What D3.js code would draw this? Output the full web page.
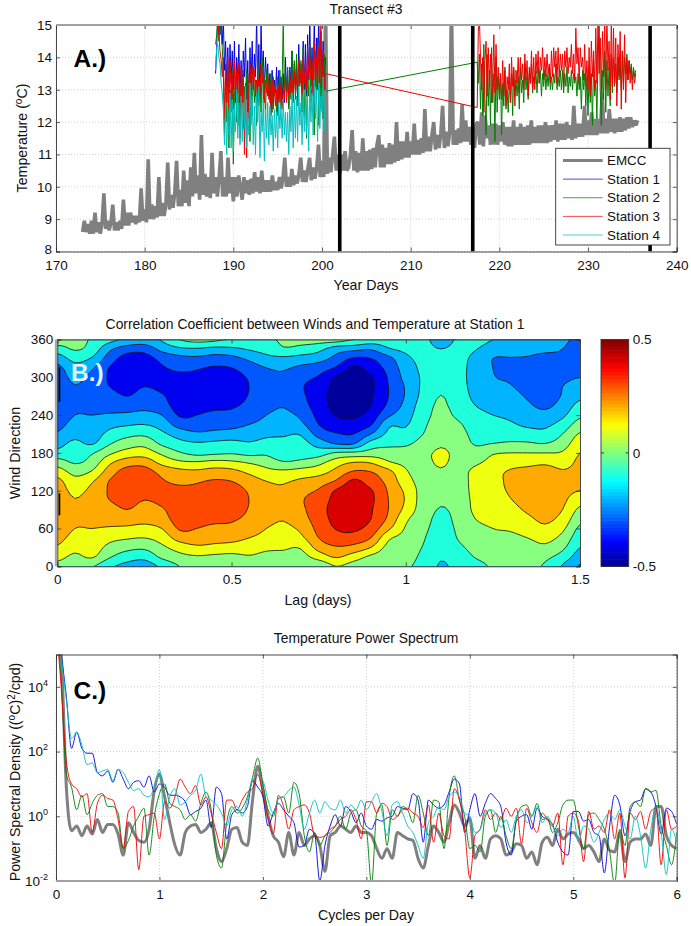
<!DOCTYPE html>
<html><head><meta charset="utf-8">
<script src="https://cdn.jsdelivr.net/npm/d3@7"></script>
<style>
html,body{margin:0;padding:0;background:#fff}
svg{display:block}
text{font-family:"Liberation Sans",Arial,sans-serif;fill:#111}
</style></head><body><svg id="c" width="691" height="926"></svg>
<script>
// ---------- Panel A data ----------
const titleA="Transect #3", xTicksA=[170,180,190,200,210,220,230,240], yTicksA=[8,9,10,11,12,13,14,15];
const markerDays=[202,217,237];
const legendNames=["EMCC","Station 1","Station 2","Station 3","Station 4"];
const emccStart=173, emccStep=0.2;
const emcc=[
8.6,8.95,8.6,8.85,8.55, 8.95,8.55,9.2,8.6,8.9, 8.55,8.9,9.8,8.7,8.95, 8.65,8.9,9.45,8.65,8.9,
8.65,8.95,8.7,9.6,8.8, 9.2,8.8,9.2,8.9,9.1, 8.85,9.1,8.9,9.95,8.95, 9.3,8.9,10.85,9.0,9.45,
9.0,9.4,9.05,10.3,9.1, 9.5,9.1,9.5,10.75,9.3, 9.75,9.35,9.85,10.8,9.4, 9.9,9.4,10.5,9.5,10.2,
9.4,10.6,9.7,11.05,9.8, 10.35,9.6,11.6,9.75,10.4, 9.7,10.3,9.65,11.05,9.8, 10.3,9.7,10.3,11.1,9.7,
10.3,9.7,10.9,9.8,10.3, 9.55,10.3,9.7,10.35,10.0, 9.6,10.3,9.8,10.2,9.75, 10.25,9.8,10.45,9.85,10.3,
9.8,10.5,9.85,10.2,9.85, 10.2,9.85,10.35,9.9,10.15, 9.9,10.3,9.95,10.25,10.9, 10.0,10.3,10.0,10.55,10.05,
10.35,10.1,10.4,10.9,10.15, 10.5,10.15,10.55,10.9,10.2, 10.6,10.25,10.6,11.3,10.3, 10.8,10.3,15.6,10.4,10.9,
10.45,11.0,11.55,10.5,11.0, 10.4,11.0,10.5,11.1,10.5, 10.6,11.0,11.75,10.5,11.1, 10.45,11.05,10.5,11.5,10.5,
11.1,10.5,11.15,10.55,11.2, 10.6,11.3,11.6,10.6,11.3, 10.6,11.2,10.7,11.35,10.7, 11.3,10.75,12.0,10.8,11.4,
10.85,11.4,10.9,11.7,10.9, 11.4,11.0,11.95,11.0,11.45, 11.0,11.5,11.05,12.4,11.1, 11.55,11.1,11.6,12.0,11.15,
11.6,11.2,11.65,12.5,11.2, 11.7,11.25,11.7,15.6,11.3, 11.75,11.3,11.8,11.35,12.55, 11.4,12.05,11.4,11.85,11.3,
11.9,11.2,11.95,12.0,11.3, 12.3,11.25,12.2,11.5,11.9, 11.3,11.95,11.3,11.95,11.3, 11.9,11.4,12.0,11.3,11.85,
11.25,11.85,11.25,12.05,11.3, 11.85,11.3,11.95,11.3,11.85, 11.3,11.9,11.3,12.05,11.35, 11.85,11.35,11.9,11.35,11.9,
11.35,12.0,11.35,11.9,11.4, 11.9,11.45,12.05,11.4,11.95, 11.45,11.95,11.45,12.0,11.5, 11.9,11.45,12.5,11.5,11.95,
11.55,11.95,11.55,12.5,11.6, 12.05,11.6,12.3,11.6,12.1, 11.6,12.1,11.65,12.9,11.65, 12.1,11.65,12.4,11.7,12.1,
11.65,12.1,11.7,12.15,11.7, 12.1,11.75,12.15,11.8,12.15, 11.85,12.05,11.9,12.05];
const sampleStep=0.125, firstStart=188, secondStart=217.5;
const station1=[
13.5,14.3,15.4,15.6,14.7,15.3,14.4,15.2, 13.6,14.5,13.1,14.3,12.9,14.4,13.2,14.2,
13.0,14.5,12.6,14.0,13.3,14.4,12.8,13.9, 12.9,14.2,13.4,14.6,12.7,13.9,12.3,14.3,
13.1,14.5,13.0,14.1,13.4,15.2,13.0,14.4, 12.7,15.0,13.5,14.2,12.9,14.0,13.3,13.8,
12.8,13.5,12.4,13.6,12.6,13.3,12.9,13.7, 12.3,13.6,12.8,13.4,12.7,13.5,12.6,14.0,
12.9,13.6,12.5,13.7,13.1,14.2,12.9,13.8, 13.1,13.9,12.7,14.4,13.2,13.8,13.0,14.5,
13.0,14.4,12.8,14.7,13.3,15.2,13.1,14.3, 12.9,15.3,13.2,14.6,13.0,15.4,13.4,14.8,
13.2,14.5,13.0,14.0];
const station2a=[
14.4,14.7,15.2,14.5,15.0,14.8,14.3,13.5, 11.6,13.4,12.0,13.8,11.2,13.0,12.3,13.6,
10.7,12.8,13.4,12.0,13.5,11.9,13.0,12.4, 13.4,11.8,13.1,12.4,13.6,12.0,13.3,11.4,
13.5,12.2,13.7,12.6,13.3,11.9,14.0,12.5, 13.2,12.3,14.0,12.6,13.4,12.1,13.6,12.8,
13.3,12.6,13.5,12.3,13.4,12.8,13.2,12.2, 13.4,12.7,13.6,12.4,13.2,15.1,13.0,13.5,
12.9,13.7,12.4,13.3,12.7,14.2,12.6,13.9, 12.7,14.1,12.5,13.8,13.1,13.9,12.3,14.3,
12.2,13.4,11.5,13.6,12.8,14.4,12.6,13.2, 13.9,11.6,14.2,12.7,14.6,11.9,14.5,12.4,
13.6,12.1,14.1,12.95];
const station2b=[13.85,13.2,14.1,12.4,
13.8,12.2,14.4,12.7,11.6,14.1,12.5,13.6, 11.9,14.3,12.6,13.5,11.4,14.0,12.3,13.4,
12.7,13.5,11.6,13.2,12.5,13.7,12.4,13.0, 12.3,13.4,12.6,13.5,12.2,13.6,12.8,13.3,
12.8,13.4,12.4,13.7,12.9,13.3,12.6,13.8, 13.0,13.4,12.7,13.5,13.2,13.8,12.9,13.4,
13.2,13.6,12.9,13.7,13.2,13.6,12.8,13.5, 13.1,13.6,13.0,13.5,13.1,13.7,13.0,13.4,
13.0,13.5,13.2,13.8,13.0,13.4,13.1,13.6, 13.0,13.6,12.9,13.5,13.1,13.7,12.9,13.4,
13.1,13.6,13.0,13.5,13.2,13.4,12.8,13.5, 13.0,13.4,12.4,13.6,13.0,13.5,12.5,13.4,
12.2,13.7,12.6,13.5,11.9,13.9,12.8,13.3, 12.1,14.0,15.2,13.0,11.9,13.6,12.7,14.2,
12.3,13.9,12.8,13.7,12.5,14.1,12.9,14.0, 13.1,13.8,12.9,14.0,13.3,13.9,13.0,14.2,
13.2,14.0,13.5,14.1,13.3,13.9,13.5,13.8, 13.3,13.7,13.4,13.6];
const station3a=[
15.3,15.0,15.2,14.7,14.2,13.9,13.4,14.0, 12.1,13.8,12.6,14.0,12.4,13.9,12.8,13.5,
12.4,13.9,12.7,13.6,12.9,13.8,11.5,13.7, 12.6,13.6,11.0,13.2,10.9,13.5,12.1,13.8,
13.0,13.7,13.1,13.6,12.8,13.3,12.6,13.4, 12.9,13.8,13.2,13.6,12.6,13.3,12.9,13.5,
12.7,13.2,12.2,13.3,12.4,13.1,12.5,13.0, 12.2,13.1,12.6,13.2,12.4,13.0,12.7,13.4,
12.6,13.2,12.8,13.5,12.9,13.3,12.7,13.6, 13.0,13.4,12.8,13.9,13.2,13.6,12.9,14.0,
13.2,13.8,13.0,14.3,13.4,14.0,13.3,13.9, 12.8,14.5,13.1,14.0,13.0,14.3,13.2,15.1,
13.1,14.2,13.0,13.5];
const station3b=[12.45,14.8,15.2,14.0,
13.0,14.0,12.3,13.9,14.5,12.8,14.3,13.1, 14.1,12.6,13.2,14.7,12.9,14.4,13.0,13.7,
12.9,13.5,12.7,13.9,12.8,13.6,12.5,13.4, 13.0,13.8,12.6,14.0,13.1,13.7,12.5,13.6,
13.2,14.0,12.9,14.0,13.3,13.8,13.0,14.1, 13.3,13.9,12.8,13.7,13.2,14.2,13.0,14.0,
13.0,14.1,13.5,14.2,13.2,14.0,13.6,14.3, 13.3,14.0,13.4,14.1,13.5,13.8,13.2,14.2,
13.4,14.3,13.7,14.2,13.2,14.3,13.4,14.1, 13.6,14.1,13.1,14.2,13.7,14.3,13.5,14.0,
13.7,14.4,13.5,14.1,13.3,14.9,13.8,14.3, 13.2,14.3,13.7,14.0,13.3,14.4,13.1,13.9,
13.0,14.3,12.8,14.5,13.4,14.2,13.0,14.9, 13.2,15.1,13.5,14.6,12.9,14.8,13.4,15.2,
13.0,15.3,13.6,14.5,12.7,15.2,13.1,14.9, 13.2,14.6,12.5,14.4,13.4,14.8,12.4,14.2,
13.0,14.7,12.6,14.0,13.3,13.9,13.2,13.7, 13.0,13.6,13.2,13.5];
const station4=[
13.6,14.3,14.4,14.0,13.8,13.2,12.9,12.4, 11.3,12.6,11.0,12.4,11.6,12.9,11.2,12.7,
11.1,12.5,11.7,13.0,11.5,12.6,11.3,12.8, 11.4,12.6,11.8,13.1,11.2,12.3,11.6,13.2,
11.9,12.8,11.3,12.5,11.0,12.9,12.0,13.1, 10.9,12.3,11.7,12.7,10.8,12.4,11.5,12.6,
11.3,12.5,11.6,12.2,11.1,12.4,11.5,12.3, 11.2,12.6,11.8,12.5,11.5,12.7,11.6,12.3,
11.4,12.3,11.0,12.5,11.7,12.9,11.2,12.7, 11.5,12.8,11.4,13.1,11.9,12.6,11.3,12.8,
11.7,13.0,11.6,12.7,11.1,13.1,12.0,12.9, 11.6,13.3,12.1,13.0,11.4,13.2,11.8,12.8,
12.3,13.4,11.7,13.0];

// ---------- Panel B data (one column per lag, direction 0..360 in 15 degree rows) ----------
const titleB="Correlation Coefficient between Winds and Temperature at Station 1";
const lagStep=0.05, directionStep=15;
const xTicksB=[0,0.5,1,1.5], yTicksB=[0,60,120,180,240,300,360];
const contourLevels=[-0.5,-0.4,-0.3,-0.2,-0.1,0,0.1,0.2,0.3,0.4];
const bandColors=["#00009c","#0000f0","#0058ff","#00b4ff","#20ffdc","#88ff80","#eeff10","#ffaa00","#ff4800","#d80000"];
const corrColumns=[
[.07,.13,.19,.23,.26,.28,.29,.29,.26,.23,.15,.05,-.07,-.13,-.19,-.23,-.26,-.28,-.29,-.29,-.26,-.23,-.15,-.05,.07],
[.04,.08,.13,.17,.2,.22,.22,.205,.17,.13,.07,-.01,-.05,-.08,-.13,-.17,-.2,-.22,-.22,-.205,-.17,-.13,-.07,.01,.03],
[.01,.11,.15,.18,.2,.23,.26,.26,.23,.19,.11,.04,-.01,-.11,-.15,-.18,-.2,-.23,-.26,-.26,-.23,-.19,-.11,-.04,-.01],
[-.08,.01,.07,.13,.19,.235,.27,.3,.31,.305,.25,.18,.08,-.01,-.07,-.13,-.19,-.235,-.27,-.3,-.31,-.305,-.25,-.18,-.07],
[-.13,-.05,.03,.11,.18,.25,.3,.33,.35,.36,.34,.25,.14,.05,-.03,-.11,-.18,-.25,-.3,-.33,-.35,-.36,-.34,-.25,-.12],
[-.15,-.07,.02,.1,.17,.23,.27,.3,.34,.36,.34,.26,.15,.07,-.02,-.1,-.17,-.23,-.27,-.3,-.34,-.36,-.34,-.26,-.14],
[-.08,.02,.08,.14,.2,.26,.29,.32,.33,.31,.27,.17,.08,-.02,-.08,-.14,-.2,-.26,-.29,-.32,-.33,-.31,-.27,-.17,-.09],
[0,.07,.14,.24,.31,.34,.35,.35,.325,.28,.23,.12,.01,-.07,-.14,-.24,-.31,-.34,-.35,-.35,-.325,-.28,-.23,-.12,0],
[.04,.09,.18,.26,.3,.33,.345,.34,.32,.29,.22,.11,-.03,-.09,-.18,-.26,-.3,-.33,-.345,-.34,-.32,-.29,-.22,-.11,.03],
[.03,.08,.17,.24,.28,.32,.35,.36,.35,.31,.24,.13,-.02,-.08,-.17,-.24,-.28,-.32,-.35,-.36,-.35,-.31,-.24,-.13,.02],
[.01,.07,.16,.23,.28,.31,.34,.35,.34,.3,.23,.12,-.01,-.07,-.16,-.23,-.28,-.31,-.34,-.35,-.34,-.3,-.23,-.12,-.01],
[.03,.09,.15,.2,.25,.28,.295,.3,.29,.25,.18,.09,-.03,-.09,-.15,-.2,-.25,-.28,-.295,-.3,-.29,-.25,-.18,-.09,-.02],
[.02,.07,.12,.17,.2,.23,.25,.25,.23,.2,.13,.06,-.02,-.07,-.12,-.17,-.2,-.23,-.25,-.25,-.23,-.2,-.13,-.06,-.01],
[.06,.08,.11,.15,.18,.205,.22,.22,.21,.19,.12,.01,-.08,-.08,-.11,-.15,-.18,-.205,-.22,-.22,-.21,-.19,-.12,-.01,.01],
[.06,.07,.11,.18,.22,.26,.28,.29,.27,.22,.14,.03,-.06,-.07,-.11,-.18,-.22,-.26,-.28,-.29,-.27,-.22,-.14,-.03,.03],
[.03,.14,.24,.3,.33,.35,.36,.35,.31,.25,.16,.07,-.05,-.14,-.24,-.3,-.33,-.35,-.36,-.35,-.31,-.25,-.16,-.07,.04],
[.1,.21,.29,.36,.405,.43,.44,.43,.41,.31,.23,.15,.01,-.21,-.29,-.36,-.405,-.43,-.44,-.43,-.41,-.31,-.23,-.15,.04],
[.06,.15,.27,.36,.42,.47,.49,.49,.46,.42,.31,.2,.02,-.21,-.3,-.36,-.42,-.47,-.49,-.49,-.46,-.42,-.31,-.17,0],
[.03,.08,.2,.3,.36,.4,.41,.42,.41,.35,.3,.19,.04,-.06,-.2,-.31,-.36,-.4,-.41,-.42,-.41,-.35,-.3,-.19,-.04],
[.01,.04,.07,.12,.22,.28,.3,.3,.29,.27,.23,.11,.05,-.03,-.08,-.12,-.22,-.28,-.3,-.3,-.29,-.27,-.23,-.11,-.05],
[.01,.03,.05,.07,.09,.12,.17,.19,.18,.14,.11,.08,.05,-.02,-.07,-.11,-.14,-.17,-.19,-.19,-.17,-.15,-.12,-.08,-.04],
[-.03,-.02,-.005,.01,.025,.04,.05,.055,.06,.065,.07,.08,.08,.04,0,-.02,-.04,-.05,-.07,-.08,-.085,-.08,-.08,-.08,-.08],
[-.11,-.09,-.07,-.06,-.04,-.025,-.005,.01,.03,.06,.09,.11,.11,.09,.07,.05,.03,.015,.002,-.02,-.035,-.05,-.07,-.1,-.125],
[-.07,-.05,-.02,.005,.015,.025,.03,.04,.05,.06,.075,.08,.08,.06,.04,.015,-.02,-.04,-.055,-.065,-.07,-.075,-.08,-.085,-.09],
[-.03,.005,.03,.05,.07,.1,.12,.125,.13,.13,.12,.085,.04,-.01,-.03,-.05,-.07,-.1,-.12,-.13,-.135,-.13,-.12,-.095,-.06],
[.01,.03,.05,.08,.1,.13,.15,.16,.17,.175,.17,.13,.09,0,-.03,-.06,-.1,-.13,-.16,-.18,-.195,-.2,-.2,-.15,-.1],
[.02,.04,.06,.08,.11,.14,.17,.195,.21,.215,.21,.16,.1,.01,-.03,-.085,-.12,-.15,-.175,-.195,-.21,-.22,-.205,-.15,-.11],
[.01,.03,.06,.1,.14,.18,.215,.24,.25,.25,.23,.17,.1,.01,-.05,-.12,-.15,-.185,-.21,-.23,-.245,-.24,-.21,-.16,-.12],
[-.01,.02,.08,.13,.18,.22,.25,.27,.28,.28,.25,.18,.1,0,-.07,-.12,-.17,-.22,-.26,-.28,-.29,-.27,-.24,-.17,-.12],
[-.11,-.04,.02,.07,.12,.165,.2,.22,.23,.23,.21,.16,.11,.05,0,-.06,-.12,-.16,-.19,-.2,-.225,-.23,-.22,-.2,-.18],
[-.21,-.15,-.1,-.06,-.02,.03,.08,.14,.2,.22,.225,.22,.2,.16,.11,.045,-.02,-.07,-.12,-.16,-.2,-.23,-.25,-.24,-.22]
];
const edgeBlips=[[261,316],[81,116]];
const colorbarTicks=[-0.5,0,0.5];
const jetStops=["#00008f","#0000ff","#00ffff","#ffff00","#ff0000","#800000"];
const jetOffsets=[-0.5,-0.39,-0.125,0.125,0.375,0.5];

// ---------- Panel C data (log10 of power, step 0.05 cpd, one text row per cpd) ----------
const titleC="Temperature Power Spectrum";
const freqStep=0.05, xTicksC=[0,1,2,3,4,5,6], yTicksC=[-2,0,2,4];
const specEmcc=[6,5,.9,-.45,-.3,-.6,-.3,-.55,-.1,-.5,-.25,-.25,-.55,-1.2,-.2,-.5,-.75,-.8,-.4,.8,1.3,
.6,-.2,-.9,-1.2,-.5,-.3,-.25,-.5,-.4,-.2,-1.0,-1.4,-1,-.4,-.35,-.8,-.9,.5,1.55,.8,
0,-.6,-.8,-1.25,-.5,-1.2,-.5,-.9,-.7,-.6,-.9,-1.7,-.6,-.5,-.3,-.4,-.5,-.3,-.5,-.5,
-.6,-1,-1.3,-1,-1.3,-.5,-.6,-.7,-.75,-1.3,-1.6,-.9,-.3,-.5,-.8,-.2,.35,.1,-.3,-.05,
-1.3,-.9,-1.3,-.7,-.6,-.7,-1.2,-1.1,-.85,-.9,-1.3,-1.1,-1.5,-.8,-.65,-.9,-.4,-.7,-.55,-.5,
-.7,-1,-.9,-1.1,-1.4,-.7,-1.05,-1.1,-.5,-1.4,-.8,-.7,-.7,-.55,-.9,.3,.3,-.6,-.9,-1];
const specS1=[6,5.0,3.7,2.1,2.6,2.1,1.95,1.95,1.35,1.25,1.4,1.05,1.45,1.15,.85,1.05,1.1,.9,1.25,.75,1.0,
.9,.65,.65,.6,.45,.05,.15,.25,.5,-.35,.9,.7,-.7,.05,.2,.1,.3,1.1,.9,.6,
-.3,.1,.4,.2,0,-.2,-.95,-.9,-.4,-.55,-2.0,-.9,-.3,.05,-.3,.3,.15,-.2,.1,-.3,
-.4,-.1,-.15,-.05,0,.3,.25,.2,.7,.5,-.8,.5,.35,.25,.35,.75,1.15,1.0,-.5,.2,
.7,0,.4,.7,.55,.3,-.8,-1.2,-.15,0,.05,-.4,.25,0,-.1,-.25,-.8,-1.1,-1.2,.15,
.15,-.15,-.1,-.5,-.6,-1.75,-.35,.65,.35,-.6,.15,.45,.5,.85,.75,.3,-.55,.25,.15,-.25];
const specS2=[6,4.2,1.3,.9,.2,.65,.05,.4,.65,.7,.3,.3,.1,-1.0,-.75,-.3,0,.25,-1.2,0,.7,
1.0,.4,.3,.2,-.1,.05,-.15,.4,.75,.2,-1.2,-1.6,-.2,.3,.1,.25,.6,1.2,1.8,1.0,
.2,0,.55,.6,.1,1.05,.7,-.6,-1.1,-.5,-.9,-.6,-.5,-.3,0,-.4,.1,.2,-.3,-.45,
-2.1,.1,.35,-.9,.2,0,.3,.2,-.2,.65,.1,-.6,.5,.45,-1.0,.6,1.25,.5,0,-1.0,
-.9,-1.1,0,.2,-.5,0,-.6,-1.0,-.1,.3,.35,0,.4,-.1,-.05,-.5,-.2,.35,.5,.5,
-.3,-1,.05,.1,-.1,-.4,-1.05,-2.1,-.4,-.9,.3,.45,.3,.85,.75,.8,-.3,-.9,-1.5,-.5];
const specS3=[6,4.0,1.7,1.0,.85,.6,.7,-.5,.4,.65,.55,.5,-.1,-1.0,.15,.3,-1.65,0,.05,.1,-.7,
.45,.25,.6,1.15,.9,.7,.95,.35,.6,.1,-.5,-1.0,.5,.5,.2,.5,.75,.85,1.3,.7,
-.05,-.55,.65,.3,-.4,.2,.3,.35,.1,-.6,-.65,-.6,-.4,-.3,-.1,0,.2,-.1,-.7,.45,
.45,.1,.4,.3,-.1,0,.2,.25,.1,0,-.35,.35,-.8,.1,-.6,-.7,.85,.5,-.4,-1.9,
-.6,-.4,.2,-.1,.1,-.1,.25,0,.25,-.85,.25,-.2,-.5,.1,-.1,-.3,.1,-1.5,0,.1,
-.15,-1.4,.15,-.4,-.3,-.5,.2,-.7,.1,-1.9,.1,-.1,.15,-.4,.15,.25,-1.5,.2,-.4,-.3];
const specS4=[6,4.9,3.6,2.4,2.6,2.2,1.6,1.65,1.35,1.4,1.45,1.1,1.45,1.35,1.05,.8,.85,.65,.6,.9,1.45,
-.1,.6,.85,.35,.45,.65,.8,1.3,.6,.5,.35,.1,-.3,.2,.3,0,.5,1.1,1.25,1.1,
.5,.1,.55,.6,.8,.9,.35,-.4,.1,.5,.1,.45,.25,.2,.5,.1,.35,.2,.5,.2,
.45,.7,.15,-.6,.35,.45,.1,-.3,-.5,-.9,-1.3,-.2,0,.3,.2,.6,.75,.6,.1,0,
-.5,-.4,.1,.2,.1,-.35,-.1,-.5,0,.2,-.2,0,.3,-.2,0,-.3,-.6,-.4,-.5,0,
-.8,-.3,-.4,-.8,-.5,-.1,.1,-.1,.2,-.3,-.7,0,-.6,-1.6,-.4,.3,-.5,-1.8,-.4,-.8];

const seriesColors={emcc:"#808080",s1:"#0000e0",s2:"#007f00",s3:"#f00000",s4:"#00bfbf"};
const axisInk="#333", gridInk="#c4c4c4";

// ---------- helpers ----------
const svg=d3.select("#c");
const FS=13.5, LABEL=14.2, TITLE=13.9;
function superLabel(sel,parts,attrs,size){
  const t=sel.append("text");
  Object.entries(attrs).forEach(([k,v])=>t.attr(k,v));
  t.style("font-size",size+"px");
  parts.forEach(p=>{
    if(p.sup) t.append("tspan").attr("dy",-5).style("font-size","10px").text(p.sup);
    else t.append("tspan").attr("dy",p.after?5:0).text(p.t);
  });
  return t;
}
function frame(x,y,xt,yt){
  const g=svg.append("g");
  const [x0,x1]=x.range(), [y0,y1]=y.range();
  const gx=g.append("g").attr("stroke",gridInk).attr("stroke-dasharray","1 2").attr("stroke-width",.8);
  gx.selectAll("line.v").data(xt).join("line").attr("x1",x).attr("x2",x).attr("y1",y0).attr("y2",y1);
  gx.selectAll("line.h").data(yt).join("line").attr("x1",x0).attr("x2",x1).attr("y1",y).attr("y2",y);
  return g;
}
function axes(x,y,xt,yt,xf,yf,pad=8){
  const [x0,x1]=x.range(), [y0,y1]=y.range();
  const g=svg.append("g");
  const bx=d3.axisBottom(x).tickValues(xt).tickFormat(xf).tickSize(-4).tickPadding(pad);
  const by=d3.axisLeft(y).tickValues(yt).tickFormat(yf).tickSize(-4).tickPadding(4);
  const gb=g.append("g").attr("transform",`translate(0,${y0})`).call(bx);
  const gl=g.append("g").attr("transform",`translate(${x0},0)`).call(by);
  g.append("g").attr("transform",`translate(0,${y1})`).call(d3.axisTop(x).tickValues(xt).tickFormat("").tickSize(-4));
  g.append("g").attr("transform",`translate(${x1},0)`).call(d3.axisRight(y).tickValues(yt).tickFormat("").tickSize(-4));
  g.selectAll("path.domain").attr("stroke",axisInk).attr("stroke-width",.9);
  g.selectAll(".tick line").attr("stroke",axisInk).attr("stroke-width",.8);
  g.selectAll("text").style("font-size",FS+"px").style("font-family",'"Liberation Sans",Arial,sans-serif').attr("fill","#111");
  return {g,gb,gl};
}
function addClip(id,x,y){
  const [x0,x1]=x.range(), [y0,y1]=y.range();
  svg.append("clipPath").attr("id",id).append("rect").attr("x",x0).attr("y",y1).attr("width",x1-x0).attr("height",y0-y1);
}
function center(txt,cx,cy,size){
  svg.append("text").attr("x",cx).attr("y",cy).attr("text-anchor","middle").style("font-size",size+"px").text(txt);
}
function panelTag(txt,x,y,col){
  svg.append("text").attr("x",x).attr("y",y).style("font-size","24.5px").style("font-weight","bold").style("fill",col).text(txt);
}

// ---------- Panel A ----------
const xA=d3.scaleLinear().domain([170,240]).range([56,676.7]);
const yA=d3.scaleLinear().domain([8,15]).range([251.5,25]);
frame(xA,yA,xTicksA,yTicksA);
addClip("clipA",xA,yA);
const lineA=d3.line().x(d=>xA(d[0])).y(d=>yA(d[1]));
const gA=svg.append("g").attr("clip-path","url(#clipA)").attr("fill","none");
const emccPts=emcc.map((v,i)=>[emccStart+i*emccStep,v]);
const seg=(vals,start)=>vals.map((v,i)=>[start+i*sampleStep,v]);
gA.append("path").attr("d",lineA(emccPts)).attr("stroke",seriesColors.emcc).attr("stroke-width",3.6).attr("stroke-linejoin","bevel");
const stationLines=[
  [seg(station1,firstStart),seriesColors.s1],
  [seg(station2a,firstStart).concat(seg(station2b,secondStart)),seriesColors.s2],
  [seg(station3a,firstStart).concat(seg(station3b,secondStart)),seriesColors.s3],
  [seg(station4,firstStart),seriesColors.s4]];
stationLines.forEach(([p,c])=>gA.append("path").attr("d",lineA(p)).attr("stroke",c).attr("stroke-width",1));
gA.selectAll("line.mark").data(markerDays).join("line").attr("x1",xA).attr("x2",xA).attr("y1",yA(8)).attr("y2",yA(15)).attr("stroke","#000").attr("stroke-width",3.6);
const axA=axes(xA,yA,xTicksA,yTicksA,d3.format("d"),d3.format("d"),9);
axA.gl.selectAll(".tick").filter(d=>d===8).select("text").attr("dy","0.12em");
svg.append("line").attr("x1",56).attr("x2",676.7).attr("y1",25).attr("y2",25).attr("stroke","#a0a0a0").attr("stroke-width",2);
center(titleA,366,14,TITLE);
center("Year Days",366,290,LABEL);
superLabel(svg,[{t:"Temperature ("},{sup:"o"},{t:"C)",after:true}],{transform:"translate(27,138) rotate(-90)","text-anchor":"middle"},LABEL);
panelTag("A.)",73.5,67,"#000");
// legend
const lg=svg.append("g");
lg.append("rect").attr("x",555.7).attr("y",148.3).attr("width",114.3).attr("height",96.7).attr("fill","#fff").attr("stroke",axisInk).attr("stroke-width",.9);
const legY=d3.scalePoint().domain(legendNames).range([160.5,235]);
const legC=[seriesColors.emcc,seriesColors.s1,seriesColors.s2,seriesColors.s3,seriesColors.s4];
legendNames.forEach((n,i)=>{
  lg.append("line").attr("x1",563).attr("x2",602.7).attr("y1",legY(n)).attr("y2",legY(n)).attr("stroke",legC[i]).attr("stroke-width",i?0.9:3).attr("stroke-opacity",i?.8:1);
  lg.append("text").attr("x",607).attr("y",legY(n)+4.6).style("font-size","13.4px").text(n);
});

// ---------- Panel B ----------
const xB=d3.scaleLinear().domain([0,1.5]).range([57.3,580]);
const yB=d3.scaleLinear().domain([0,360]).range([566.3,339.5]);
addClip("clipB",xB,yB);
const nCols=corrColumns.length,nRows=corrColumns[0].length;
// Rendering refinement only: the contour engine is fed a smooth (Catmull-Rom) surface through the read grid.
const refine=4;
const cub=(a,b,c,d,t)=>.5*(2*b+(c-a)*t+(2*a-5*b+4*c-d)*t*t+(3*b-a-3*c+d)*t*t*t);
const at=(c,r)=>corrColumns[Math.max(0,Math.min(nCols-1,c))][Math.max(0,Math.min(nRows-1,r))];
const mU=(nCols-1)*refine+1,nU=(nRows-1)*refine+1,fine=[];
for(let rr=0;rr<nU;rr++){
  const r=Math.min(nRows-2,Math.floor(rr/refine)),tr=rr/refine-r;
  for(let cc=0;cc<mU;cc++){
    const c=Math.min(nCols-2,Math.floor(cc/refine)),tc=cc/refine-c;
    const row=k=>cub(at(c-1,r+k),at(c,r+k),at(c+1,r+k),at(c+2,r+k),tc);
    fine.push(cub(row(-1),row(0),row(1),row(2),tr));
  }
}
const gB=svg.append("g").attr("clip-path","url(#clipB)");
gB.append("rect").attr("x",57.3).attr("y",339.5).attr("width",522.7).attr("height",226.8).attr("fill",bandColors[0]);
const ringLine=d3.line().x(p=>xB((p[0]-.5)/refine*lagStep)).y(p=>yB((p[1]-.5)/refine*directionStep));
d3.contours().size([mU,nU]).thresholds(contourLevels)(fine).forEach(ct=>{
  const i=contourLevels.indexOf(ct.value);
  const d=ct.coordinates.flatMap(poly=>poly.map(ring=>ringLine(ring)+"Z")).join("");
  gB.append("path").attr("d",d).attr("fill",bandColors[i]).attr("fill-rule","evenodd").attr("stroke",i?"#111":"none").attr("stroke-width",.8);
});
gB.selectAll("line.blip").data(edgeBlips).join("line").attr("x1",xB(0.006)).attr("x2",xB(0.006)).attr("y1",d=>yB(d[0])).attr("y2",d=>yB(d[1])).attr("stroke","#000").attr("stroke-width",1.8);
axes(xB,yB,xTicksB,yTicksB,d=>d,d3.format("d"));
svg.append("line").attr("x1",56).attr("x2",56).attr("y1",339.5).attr("y2",566.3).attr("stroke","#a8a8a8").attr("stroke-width",2.4);
center(titleB,315,329,TITLE);
center("Lag (days)",318,605,LABEL);
svg.append("text").attr("transform","translate(20,453) rotate(-90)").attr("text-anchor","middle").style("font-size",LABEL+"px").text("Wind Direction");
panelTag("B.)",71,380.5,"#e2f6ff");
// colorbar
const yCb=d3.scaleLinear().domain([-0.5,0.5]).range([566.3,339.5]);
const jet=d3.scaleLinear().domain(jetOffsets).range(jetStops);
const cbCells=d3.range(64).map(i=>-0.5+i/64);
svg.append("g").selectAll("rect").data(cbCells).join("rect").attr("x",601).attr("width",27.7)
  .attr("y",d=>yCb(d+1/64)).attr("height",d=>yCb(d)-yCb(d+1/64)+.6).attr("fill",d=>jet(d+1/128));
svg.append("rect").attr("x",601).attr("y",339.5).attr("width",27.7).attr("height",226.8).attr("fill","none").attr("stroke",axisInk).attr("stroke-width",.9);
const cbA=svg.append("g").attr("transform","translate(628.7,0)").call(d3.axisRight(yCb).tickValues(colorbarTicks).tickFormat(d=>d).tickSize(0).tickPadding(4));
cbA.select("path.domain").remove();
cbA.selectAll("text").style("font-size",FS+"px").style("font-family",'"Liberation Sans",Arial,sans-serif').attr("fill","#111");
svg.append("line").attr("x1",601).attr("x2",604).attr("y1",yCb(0)).attr("y2",yCb(0)).attr("stroke",axisInk);
svg.append("line").attr("x1",625.7).attr("x2",628.7).attr("y1",yCb(0)).attr("y2",yCb(0)).attr("stroke",axisInk);

// ---------- Panel C ----------
const xC=d3.scaleLinear().domain([0,6]).range([56,676.7]);
const yC=d3.scaleLog().domain([1e-2,1e5]).range([881,654.5]);
const powTicks=yTicksC.map(e=>Math.pow(10,e));
frame(xC,yC,xTicksC,powTicks);
addClip("clipC",xC,yC);
const lineC=d3.line().curve(d3.curveMonotoneX).x((d,i)=>xC(i*freqStep)).y(d=>yC(Math.pow(10,d)));
const gC=svg.append("g").attr("clip-path","url(#clipC)").attr("fill","none");
gC.append("path").attr("d",lineC(specEmcc)).attr("stroke",seriesColors.emcc).attr("stroke-width",3);
[[specS1,seriesColors.s1],[specS2,seriesColors.s2],[specS3,seriesColors.s3],[specS4,seriesColors.s4]]
  .forEach(([s,c])=>gC.append("path").attr("d",lineC(s)).attr("stroke",c).attr("stroke-width",.9));
const axC=axes(xC,yC,xTicksC,powTicks,d3.format("d"),()=>"10");
axC.gl.selectAll(".tick text").each(function(d){
  const t=d3.select(this).text(null).attr("x",-8);
  t.append("tspan").style("font-size",FS+"px").text("10");
  t.append("tspan").attr("dy",-6).style("font-size","9px").text(Math.round(Math.log10(d)));
});
svg.append("line").attr("x1",56).attr("x2",676.7).attr("y1",881).attr("y2",881).attr("stroke","#a0a0a0").attr("stroke-width",2);
center(titleC,366,643,TITLE);
center("Cycles per Day",366,920,LABEL);
superLabel(svg,[{t:"Power Spectral Density (("},{sup:"o"},{t:"C)",after:true},{sup:"2"},{t:"/cpd)",after:true}],{transform:"translate(20,772) rotate(-90)","text-anchor":"middle"},LABEL);
panelTag("C.)",73.5,698.5,"#000");
</script></body></html>
